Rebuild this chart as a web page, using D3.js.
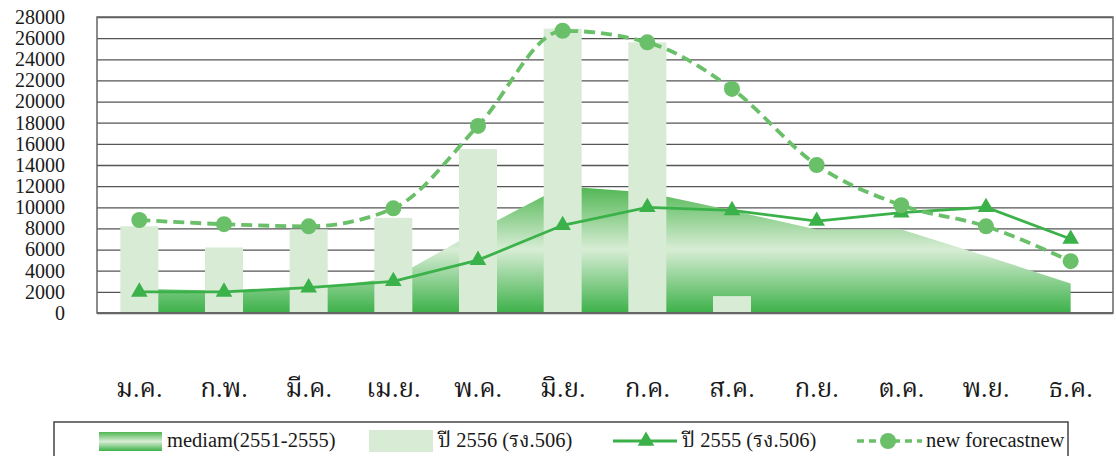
<!DOCTYPE html>
<html>
<head>
<meta charset="utf-8">
<script src="https://cdn.jsdelivr.net/npm/d3@7"></script>
<style>
  html, body { margin: 0; padding: 0; background: #fff; }
  svg { display: block; }
  text { font-family: "Liberation Serif", "Norasi", "Noto Serif Thai", "DejaVu Serif", serif; fill: #1a1a1a; }
</style>
</head>
<body>
<svg id="chart" width="1116" height="456"></svg>
<script>
// Monthly values
const months = ["ม.ค.", "ก.พ.", "มี.ค.", "เม.ย.", "พ.ค.", "มิ.ย.", "ก.ค.", "ส.ค.", "ก.ย.", "ต.ค.", "พ.ย.", "ธ.ค."];
const median5yr = [2300, 2100, 2300, 3300, 7800, 12000, 11400, 9700, 7900, 7900, 5400, 2800];
const year2556 = [8200, 6200, 7900, 9000, 15500, 26900, 25600, 1600, null, null, null, null];
const year2555 = [2000, 2000, 2400, 3000, 5000, 8300, 10000, 9700, 8700, 9500, 10000, 7000];
const forecast = [8800, 8400, 8200, 9900, 17700, 26700, 25600, 21200, 14000, 10200, 8200, 4900];
const yTicks = [0, 2000, 4000, 6000, 8000, 10000, 12000, 14000, 16000, 18000, 20000, 22000, 24000, 26000, 28000];
const seriesNames = ["mediam(2551-2555)", "ปี 2556 (รง.506)", "ปี 2555 (รง.506)", "new forecastnew"];

const FONT = '"Liberation Serif", "Norasi", "Noto Serif Thai", "DejaVu Serif", serif';
const svg = d3.select("#chart");
const plot = { left: 97, right: 1113, top: 17, bottom: 313 };

const x = d3.scaleBand().domain(months).range([plot.left, plot.right]).padding(0);
const cx = m => x(m) + x.bandwidth() / 2;
const y = d3.scaleLinear().domain([0, 28000]).range([plot.bottom, plot.top]);
const barW = 38;

const green = "#3bb14a";
const lightGreen = "#6abf69";
const barColor = "#d7ebd5";

// Vertical gradient for the median area
const defs = svg.append("defs");
const grad = defs.append("linearGradient").attr("id", "areaGrad")
  .attr("x1", 0).attr("y1", 0).attr("x2", 0).attr("y2", 1);
grad.append("stop").attr("offset", "0%").attr("stop-color", "#4fb652");
grad.append("stop").attr("offset", "50%").attr("stop-color", "#d8edd5");
grad.append("stop").attr("offset", "100%").attr("stop-color", "#3cb149");

// Gridlines
svg.append("g")
  .attr("transform", `translate(${plot.left},0)`)
  .call(d3.axisLeft(y).tickValues(yTicks).tickSize(-(plot.right - plot.left)).tickFormat(""))
  .call(g => g.select(".domain").remove())
  .call(g => g.selectAll("line").attr("stroke", "#555").attr("stroke-width", 1.3));

// Y tick labels
svg.append("g")
  .attr("transform", `translate(${plot.left},0)`)
  .attr("font-family", FONT)
  .call(d3.axisLeft(y).tickValues(yTicks).tickSize(0).tickPadding(32).tickFormat(d3.format("d")))
  .call(g => g.select(".domain").remove())
  .call(g => g.selectAll("text").attr("font-size", 20).attr("fill", "#1a1a1a").style("font-family", FONT));

// Median area
const area = d3.area()
  .x((d, i) => cx(months[i]))
  .y0(y(0))
  .y1(d => y(d));
svg.append("path")
  .datum(median5yr)
  .attr("d", area)
  .attr("fill", "url(#areaGrad)");

// Bars for 2556
svg.append("g").selectAll("rect")
  .data(year2556.map((v, i) => ({ m: months[i], v })).filter(d => d.v != null))
  .join("rect")
  .attr("x", d => cx(d.m) - barW / 2)
  .attr("y", d => y(d.v))
  .attr("width", barW)
  .attr("height", d => y(0) - y(d.v))
  .attr("fill", barColor);

// Plot frame
svg.append("rect")
  .attr("x", plot.left).attr("y", plot.top)
  .attr("width", plot.right - plot.left).attr("height", plot.bottom - plot.top)
  .attr("fill", "none").attr("stroke", "#666").attr("stroke-width", 1.5);
svg.append("line")
  .attr("x1", plot.left).attr("x2", plot.right).attr("y1", y(0)).attr("y2", y(0))
  .attr("stroke", "#666").attr("stroke-width", 2);

// 2555 line with triangles
const line2555 = d3.line().x((d, i) => cx(months[i])).y(d => y(d));
svg.append("path").datum(year2555).attr("d", line2555)
  .attr("fill", "none").attr("stroke", green).attr("stroke-width", 2.8);
const tri = d3.symbol().type(d3.symbolTriangle).size(120);
svg.append("g").selectAll("path")
  .data(year2555)
  .join("path")
  .attr("d", tri)
  .attr("transform", (d, i) => `translate(${cx(months[i])},${y(d)})`)
  .attr("fill", green);

// Forecast dashed smooth line with circles
const lineFc = d3.line().x((d, i) => cx(months[i])).y(d => y(d)).curve(d3.curveMonotoneX);
svg.append("path").datum(forecast).attr("d", lineFc)
  .attr("fill", "none").attr("stroke", lightGreen).attr("stroke-width", 3.8)
  .attr("stroke-dasharray", "11,6");
svg.append("g").selectAll("circle")
  .data(forecast)
  .join("circle")
  .attr("cx", (d, i) => cx(months[i]))
  .attr("cy", d => y(d))
  .attr("r", 8)
  .attr("fill", lightGreen);

// Month labels
svg.append("g")
  .attr("transform", `translate(0,${plot.bottom})`)
  .attr("font-family", FONT)
  .call(d3.axisBottom(x).tickSize(0).tickPadding(0))
  .call(g => g.select(".domain").remove())
  .call(g => g.selectAll("text").attr("y", 84).attr("dy", 0).attr("font-size", 26)
    .attr("fill", "#1a1a1a").style("font-family", FONT));

// Legend
const lg = svg.append("g").attr("font-family", FONT);
lg.append("rect").attr("x", 54).attr("y", 422).attr("width", 1014).attr("height", 60)
  .attr("fill", "#fff").attr("stroke", "#444").attr("stroke-width", 1.5);
const legendFont = 20.5;
const ty = 447;

lg.append("rect").attr("x", 99).attr("y", 432).attr("width", 63).attr("height", 19).attr("fill", "url(#areaGrad)");
lg.append("text").attr("x", 167).attr("y", ty).attr("font-size", legendFont).text(seriesNames[0]);

lg.append("rect").attr("x", 369).attr("y", 430).attr("width", 64).attr("height", 22).attr("fill", barColor);
lg.append("text").attr("x", 438).attr("y", ty).attr("font-size", legendFont).text(seriesNames[1]);

lg.append("line").attr("x1", 613).attr("x2", 677).attr("y1", 441).attr("y2", 441)
  .attr("stroke", green).attr("stroke-width", 3);
lg.append("path").attr("d", tri).attr("transform", "translate(646,441)").attr("fill", green);
lg.append("text").attr("x", 682).attr("y", ty).attr("font-size", legendFont).text(seriesNames[2]);

lg.append("line").attr("x1", 857).attr("x2", 922).attr("y1", 441).attr("y2", 441)
  .attr("stroke", lightGreen).attr("stroke-width", 3.5).attr("stroke-dasharray", "7,5");
lg.append("circle").attr("cx", 888).attr("cy", 441).attr("r", 8).attr("fill", lightGreen);
lg.append("text").attr("x", 926).attr("y", ty).attr("font-size", legendFont).text(seriesNames[3]);
</script>
</body>
</html>
